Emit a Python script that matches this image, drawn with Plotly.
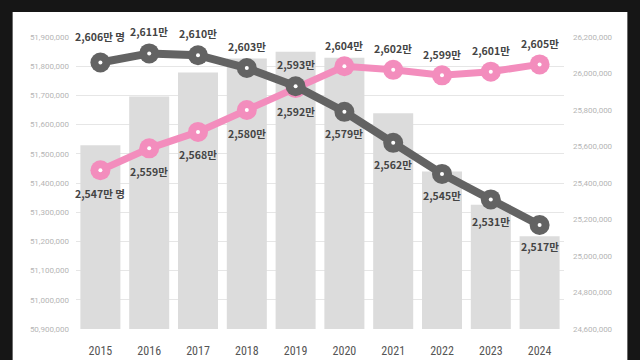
import plotly.graph_objects as go

years = [2015, 2016, 2017, 2018, 2019, 2020, 2021, 2022, 2023, 2024]
total_pop = [51529338, 51696216, 51778544, 51826059, 51849861, 51829023, 51638809, 51439038, 51325329, 51217221]
non_capital = [2606, 2611, 2610, 2603, 2593, 2579, 2562, 2545, 2531, 2517]  # 만 명
capital = [2547, 2559, 2568, 2580, 2592, 2604, 2602, 2599, 2601, 2605]      # 만 명

left_ticks = list(range(50900000, 51900001, 100000))
right_ticks = list(range(24600000, 26200001, 200000))

nc_vals = [v * 10000 for v in non_capital]
cp_vals = [v * 10000 for v in capital]

GREY = "#636363"
PINK = "#f38dbd"
FONT = "Noto Sans CJK KR"

fig = go.Figure()
fig.add_trace(go.Bar(x=years, y=total_pop, marker=dict(color="#dcdcdc", line=dict(width=0)),
                     yaxis="y", hoverinfo="skip"))
fig.add_trace(go.Scatter(x=years, y=cp_vals, yaxis="y2", mode="lines+markers",
                         line=dict(color=PINK, width=7),
                         marker=dict(size=20, color=PINK)))
fig.add_trace(go.Scatter(x=years, y=cp_vals, yaxis="y2", mode="markers",
                         marker=dict(size=4, color="white")))
fig.add_trace(go.Scatter(x=years, y=nc_vals, yaxis="y2", mode="lines+markers",
                         line=dict(color=GREY, width=8),
                         marker=dict(size=20, color=GREY)))
fig.add_trace(go.Scatter(x=years, y=nc_vals, yaxis="y2", mode="markers",
                         marker=dict(size=4, color="white")))

annotations = []
for i, y in enumerate(years):
    suffix = " 명" if i == 0 else ""
    nc_up = i < 5
    annotations.append(dict(x=y, y=nc_vals[i], xref="x", yref="y2",
                            text=f"<b>{non_capital[i]:,}만{suffix}</b>", showarrow=False,
                            yshift=(26 if i == 0 else 22) if nc_up else -22,
                            font=dict(family=FONT, size=10.5, color="#444444")))
    annotations.append(dict(x=y, y=cp_vals[i], xref="x", yref="y2",
                            text=f"<b>{capital[i]:,}만{suffix}</b>", showarrow=False,
                            yshift=-23 if nc_up else 21,
                            font=dict(family=FONT, size=10.5, color="#444444")))

fig.update_layout(
    width=640, height=360,
    margin=dict(l=75.5, r=75.5, t=37, b=31, autoexpand=False),
    paper_bgcolor="#161616",
    plot_bgcolor="rgba(0,0,0,0)",
    showlegend=False,
    bargap=0.18,
    hovermode=False,
    annotations=annotations,
    shapes=[dict(type="rect", xref="paper", yref="paper",
                 x0=-63.5 / 489, x1=1 + 63.5 / 489,
                 y0=-31 / 292, y1=1 + 25 / 292,
                 fillcolor="white", line=dict(width=0), layer="below")],
    xaxis=dict(range=[2014.5, 2024.5], tickvals=years, ticktext=[str(y) for y in years],
               showgrid=False, zeroline=False, showline=False,
               tickfont=dict(family="Roboto Condensed, Roboto, sans-serif", size=12, color="#555555"),
               ticklabelstandoff=13),
    yaxis=dict(range=[50900000, 51900000], tickvals=left_ticks,
               ticktext=[f"{v:,}" for v in left_ticks],
               showgrid=True, gridcolor="#e6e6e6", gridwidth=1, zeroline=False,
               tickfont=dict(family="Roboto, sans-serif", size=8, color="#b5b5b5"),
               ticklabelstandoff=6),
    yaxis2=dict(range=[24600000, 26200000], tickvals=right_ticks,
                ticktext=[f"{v:,}" for v in right_ticks],
                overlaying="y", side="right", showgrid=False, zeroline=False,
                tickfont=dict(family="Roboto, sans-serif", size=8, color="#b5b5b5"),
                ticklabelstandoff=8),
)

fig.write_html("out.html", config={"displayModeBar": False},
               post_script="document.body.style.margin='0';document.body.style.background='#161616';")
